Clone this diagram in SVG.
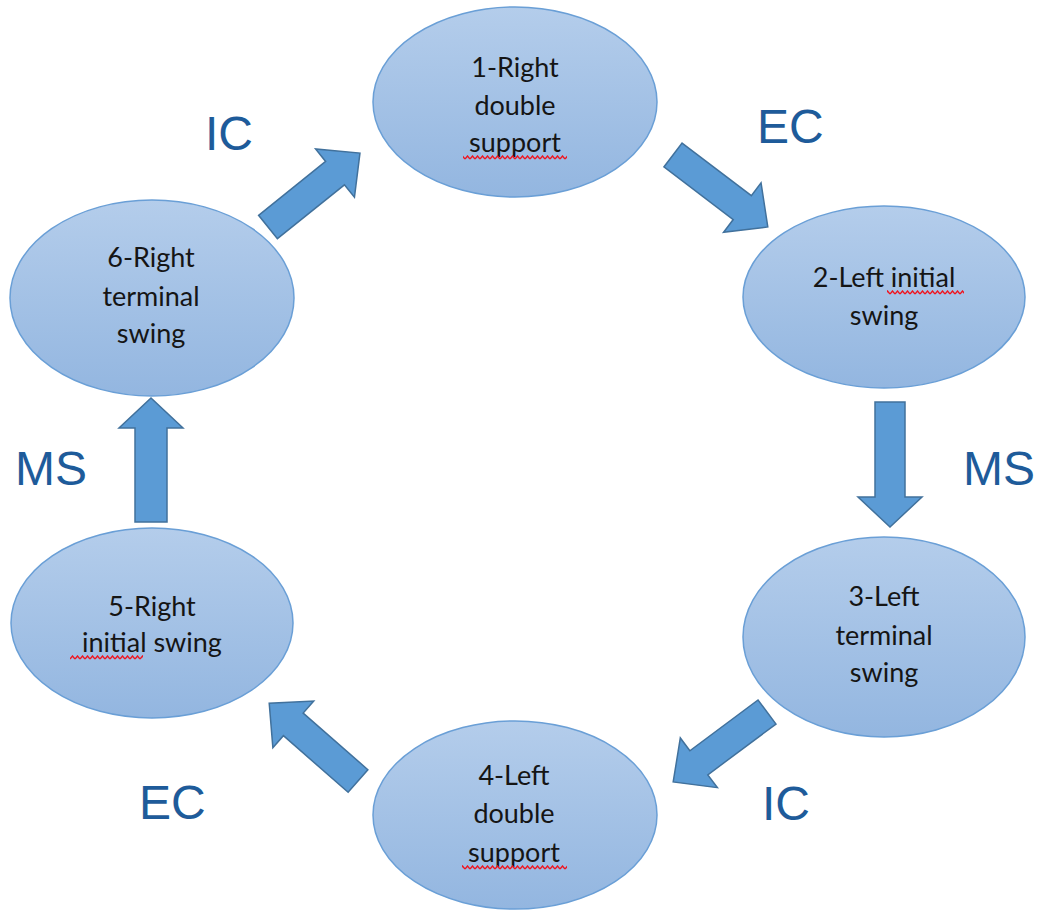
<svg xmlns="http://www.w3.org/2000/svg" width="1039" height="913" viewBox="0 0 1039 913">
  <style>
    .node ellipse { fill: url(#nodeFill); stroke: #6A9FD6; stroke-width: 1.5; }
    .node text { font-family: Lato, "Liberation Sans", sans-serif; font-size: 27px; fill: #151515; text-anchor: middle; }
    .arrow { fill: #5B9BD5; stroke: #41719C; stroke-width: 1.5; stroke-linejoin: miter; }
    .label { font-family: "Liberation Sans", Arial, sans-serif; font-size: 48px; fill: #1E5B9A; }
    .squiggle { fill: url(#wave); }
  </style>
  <defs>
    <linearGradient id="nodeFill" x1="0" y1="0" x2="0" y2="1">
      <stop offset="0" stop-color="#B4CDEB"/>
      <stop offset="1" stop-color="#93B6E0"/>
    </linearGradient>
    <pattern id="wave" width="5" height="5" patternUnits="userSpaceOnUse">
      <path d="M0 4 L2.5 1 L5 4" fill="none" stroke="#F0141E" stroke-width="1.4"/>
    </pattern>
  </defs>

  <rect width="1039" height="913" fill="#ffffff"/>

  <g id="connectors">
    <!-- 6 -> 1 (IC) -->
    <polygon class="arrow" transform="translate(268,227) rotate(-38.8)" points="0,-15 86,-15 86,-31 118,0 86,31 86,15 0,15"/>
    <!-- 1 -> 2 (EC) -->
    <polygon class="arrow" transform="translate(673,155) rotate(37.2)" points="0,-15 87,-15 87,-31 119,0 87,31 87,15 0,15"/>
    <!-- 2 -> 3 (MS) -->
    <polygon class="arrow" transform="translate(890,402) rotate(90)" points="0,-15 95,-15 95,-32 125,0 95,32 95,15 0,15"/>
    <!-- 3 -> 4 (IC) -->
    <polygon class="arrow" transform="translate(767,712) rotate(143.3)" points="0,-15 85,-15 85,-31 117,0 85,31 85,15 0,15"/>
    <!-- 4 -> 5 (EC) -->
    <polygon class="arrow" transform="translate(358,781) rotate(-138.8)" points="0,-15 86,-15 86,-31 118,0 86,31 86,15 0,15"/>
    <!-- 5 -> 6 (MS) -->
    <polygon class="arrow" transform="translate(151,522) rotate(-90)" points="0,-16 94,-16 94,-32 124,0 94,32 94,16 0,16"/>
  </g>

  <g id="node1" class="node">
    <ellipse cx="515" cy="102" rx="142" ry="95"/>
    <text x="515" y="77">1-Right</text>
    <text x="515" y="115">double</text>
    <text x="515" y="152">support</text>
    <rect class="squiggle" x="463" y="155" width="104" height="5"/>
  </g>

  <g id="node2" class="node">
    <ellipse cx="884" cy="297" rx="141" ry="91"/>
    <text x="884" y="287">2-Left initial</text>
    <text x="884" y="325">swing</text>
    <rect class="squiggle" x="887" y="290" width="77" height="5"/>
  </g>

  <g id="node3" class="node">
    <ellipse cx="884" cy="637" rx="141" ry="100"/>
    <text x="884" y="606">3-Left</text>
    <text x="884" y="645">terminal</text>
    <text x="884" y="682">swing</text>
  </g>

  <g id="node4" class="node">
    <ellipse cx="515" cy="815" rx="142" ry="94"/>
    <text x="514" y="785">4-Left</text>
    <text x="514" y="823">double</text>
    <text x="514" y="862">support</text>
    <rect class="squiggle" x="462" y="865" width="105" height="5"/>
  </g>

  <g id="node5" class="node">
    <ellipse cx="152" cy="623" rx="141" ry="95"/>
    <text x="152" y="616">5-Right</text>
    <text x="152" y="652">initial swing</text>
    <rect class="squiggle" x="70" y="655" width="73" height="5"/>
  </g>

  <g id="node6" class="node">
    <ellipse cx="152" cy="298" rx="142" ry="98"/>
    <text x="151" y="267">6-Right</text>
    <text x="151" y="306">terminal</text>
    <text x="151" y="343">swing</text>
  </g>

  <g id="labels">
    <text class="label" x="205" y="150">IC</text>
    <text class="label" x="757" y="143">EC</text>
    <text class="label" x="963" y="485">MS</text>
    <text class="label" x="762" y="820">IC</text>
    <text class="label" x="139" y="819">EC</text>
    <text class="label" x="15" y="485">MS</text>
  </g>
</svg>
